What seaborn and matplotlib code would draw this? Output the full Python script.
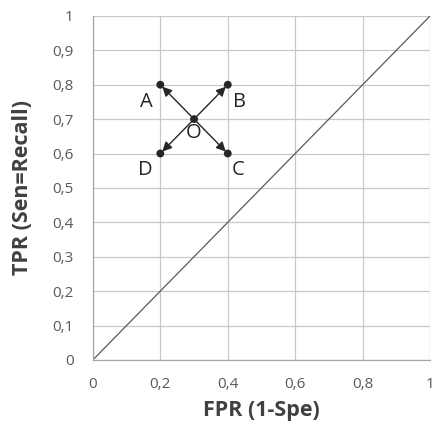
import matplotlib.pyplot as plt
import pandas as pd
import seaborn as sns

# Points in ROC space
labels = ["A", "B", "C", "D", "O"]
fpr = [0.2, 0.4, 0.4, 0.2, 0.3]
tpr = [0.8, 0.8, 0.6, 0.6, 0.7]
# diagonal (random classifier)
diag_x = [0, 1]
diag_y = [0, 1]
ticks = [0, 0.1, 0.2, 0.3, 0.4, 0.5, 0.6, 0.7, 0.8, 0.9, 1]
xticks = [0, 0.2, 0.4, 0.6, 0.8, 1]

sns.set_theme(style="white")
plt.rcParams["font.family"] = ["Open Sans", "DejaVu Sans"]

df = pd.DataFrame({"label": labels, "fpr": fpr, "tpr": tpr})

fig = plt.figure(figsize=(4.34, 4.30), dpi=100)
ax = fig.add_axes([0.214, 0.163, 0.777, 0.800])

sns.lineplot(x=diag_x, y=diag_y, color="#5a5a5a", lw=0.9, ax=ax, zorder=2)
sns.scatterplot(data=df, x="fpr", y="tpr", color="#262626", s=32,
                edgecolor="none", ax=ax, zorder=4, legend=False)

o = df[df["label"] == "O"].iloc[0]
offsets = {"A": (-0.04, -0.05), "B": (0.035, -0.05),
           "C": (0.03, -0.047), "D": (-0.045, -0.047)}
for _, r in df.iterrows():
    if r["label"] == "O":
        continue
    ax.annotate("", xy=(r["fpr"], r["tpr"]), xytext=(o["fpr"], o["tpr"]),
                arrowprops=dict(arrowstyle="-|>", color="#262626", lw=1.0,
                                mutation_scale=14, shrinkA=0, shrinkB=2),
                zorder=3)
    dx, dy = offsets[r["label"]]
    ax.text(r["fpr"] + dx, r["tpr"] + dy, r["label"], fontsize=14.5,
            color="#262626", ha="center", va="center")
ax.text(o["fpr"], o["tpr"] - 0.04, "O", fontsize=14.5, color="#262626",
        ha="center", va="center")

ax.set_xlim(0, 1)
ax.set_ylim(0, 1)
ax.set_xticks(xticks)
ax.set_yticks(ticks)
fmt = lambda v: f"{v:g}".replace(".", ",")
ax.set_xticklabels([fmt(v) for v in xticks])
ax.set_yticklabels([fmt(v) for v in ticks])
ax.tick_params(axis="both", labelsize=11, labelcolor="#595959", length=0,
               pad=12)
ax.tick_params(axis="y", length=4, color="#a6a6a6", direction="out", pad=10)
ax.grid(True, color="#c8c8c8", lw=0.9)
ax.set_axisbelow(True)
for side in ["top", "right"]:
    ax.spines[side].set_visible(False)
for side in ["left", "bottom"]:
    ax.spines[side].set_color("#a6a6a6")
    ax.spines[side].set_linewidth(0.9)

ax.set_xlabel("FPR (1-Spe)", fontsize=15.5, fontweight="bold", color="#404040",
              labelpad=6)
ax.set_ylabel("TPR (Sen=Recall)", fontsize=15.5, fontweight="bold",
              color="#404040", labelpad=14)

fig.savefig("out.png", dpi=100)
